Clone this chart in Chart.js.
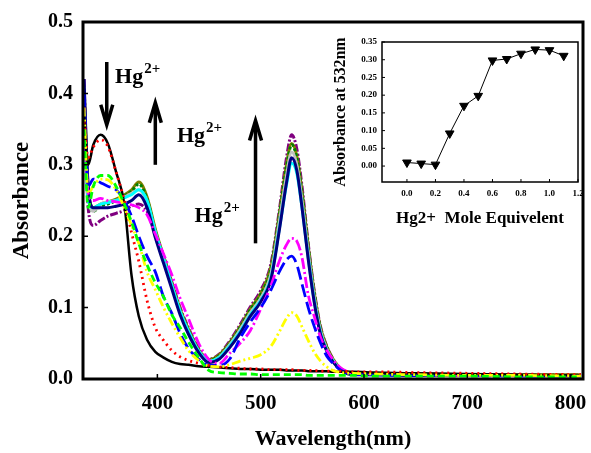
<!DOCTYPE html>
<html>
<head>
<meta charset="utf-8">
<script src="https://cdn.jsdelivr.net/npm/chart.js@4.4.0/dist/chart.umd.min.js"></script>
<style>
  body { margin: 0; background: #fff; }
  #wrap { position: relative; width: 591px; height: 453px; }
  #mainChart { position: absolute; left: 0; top: 0; }
  #insetChart { position: absolute; left: 318px; top: 25px; }
</style>
</head>
<body>
<div id="wrap">
  <canvas id="mainChart" width="591" height="453"></canvas>
  <canvas id="insetChart" width="268" height="205"></canvas>
</div>
<script>
// wavelengths (nm) shared by all spectra
const wavelengths = [329,333,338,345,352,360,368,375,382,390,398,406,414,422,430,440,450,460,470,480,490,500,510,518,525,530,535,540,546,552,558,564,570,578,590,610,650,700,750,810];

// absorbance spectra, one per Hg2+ addition
const absBlack   = [0.37,0.30,0.328,0.342,0.33,0.29,0.245,0.145,0.088,0.055,0.038,0.03,0.024,0.021,0.02,0.018,0.017,0.016,0.015,0.014,0.014,0.013,0.013,0.013,0.012,0.012,0.012,0.012,0.011,0.011,0.011,0.011,0.01,0.01,0.01,0.009,0.008,0.007,0.006,0.005];
const absRed     = [0.36,0.31,0.325,0.335,0.326,0.29,0.25,0.205,0.165,0.11,0.072,0.054,0.04,0.031,0.026,0.022,0.019,0.017,0.016,0.015,0.014,0.014,0.013,0.013,0.013,0.013,0.012,0.012,0.012,0.012,0.011,0.011,0.011,0.011,0.01,0.01,0.009,0.008,0.007,0.006];
const absLime    = [0.35,0.24,0.27,0.285,0.285,0.27,0.245,0.22,0.19,0.16,0.135,0.115,0.09,0.072,0.052,0.03,0.012,0.009,0.008,0.007,0.007,0.006,0.006,0.006,0.006,0.006,0.006,0.006,0.005,0.005,0.005,0.005,0.005,0.005,0.005,0.004,0.004,0.004,0.003,0.003];
const absYellow  = [0.38,0.26,0.27,0.28,0.279,0.265,0.24,0.215,0.19,0.15,0.125,0.1,0.078,0.058,0.04,0.026,0.018,0.017,0.02,0.025,0.029,0.034,0.046,0.066,0.085,0.093,0.088,0.073,0.054,0.037,0.025,0.017,0.012,0.009,0.008,0.007,0.006,0.005,0.005,0.004];
const absBlue    = [0.40,0.27,0.28,0.275,0.27,0.265,0.25,0.228,0.2,0.172,0.15,0.115,0.092,0.064,0.043,0.028,0.019,0.019,0.028,0.057,0.08,0.1,0.125,0.15,0.167,0.172,0.16,0.133,0.1,0.073,0.05,0.032,0.022,0.012,0.007,0.006,0.005,0.005,0.004,0.004];
const absMagenta = [0.38,0.26,0.25,0.253,0.25,0.248,0.246,0.244,0.24,0.23,0.203,0.175,0.146,0.113,0.085,0.05,0.027,0.022,0.036,0.05,0.068,0.098,0.131,0.165,0.188,0.197,0.193,0.17,0.118,0.087,0.058,0.04,0.027,0.015,0.008,0.007,0.006,0.005,0.005,0.004];
const absNavy    = [0.42,0.27,0.24,0.24,0.24,0.242,0.245,0.25,0.258,0.24,0.198,0.162,0.126,0.09,0.063,0.037,0.023,0.028,0.044,0.064,0.088,0.108,0.14,0.208,0.275,0.31,0.292,0.24,0.168,0.106,0.062,0.039,0.024,0.012,0.006,0.006,0.005,0.005,0.005,0.004];
const absCyan    = [0.38,0.25,0.24,0.245,0.247,0.25,0.254,0.258,0.265,0.25,0.206,0.169,0.131,0.095,0.067,0.039,0.025,0.03,0.046,0.066,0.09,0.11,0.142,0.21,0.272,0.302,0.288,0.24,0.17,0.108,0.064,0.04,0.025,0.012,0.007,0.006,0.006,0.005,0.005,0.005];
const absGray    = [0.39,0.26,0.235,0.245,0.248,0.25,0.255,0.26,0.265,0.248,0.205,0.168,0.13,0.094,0.066,0.039,0.025,0.031,0.048,0.069,0.093,0.113,0.148,0.22,0.285,0.318,0.3,0.25,0.178,0.113,0.067,0.042,0.026,0.013,0.007,0.006,0.006,0.005,0.005,0.005];
const absOlive   = [0.41,0.27,0.24,0.245,0.248,0.252,0.258,0.265,0.276,0.255,0.21,0.172,0.134,0.098,0.07,0.041,0.027,0.034,0.051,0.073,0.098,0.12,0.157,0.23,0.3,0.33,0.312,0.262,0.186,0.119,0.071,0.045,0.028,0.014,0.008,0.007,0.007,0.006,0.006,0.006];
const absGreen   = [0.40,0.26,0.235,0.242,0.245,0.25,0.256,0.263,0.273,0.252,0.207,0.17,0.132,0.096,0.068,0.04,0.026,0.033,0.05,0.072,0.097,0.118,0.155,0.228,0.297,0.328,0.31,0.26,0.185,0.118,0.07,0.044,0.027,0.013,0.008,0.007,0.006,0.006,0.005,0.005];
const absPurple  = [0.42,0.24,0.215,0.222,0.228,0.232,0.236,0.242,0.245,0.235,0.205,0.172,0.136,0.1,0.072,0.043,0.028,0.035,0.053,0.076,0.101,0.124,0.162,0.236,0.31,0.342,0.322,0.27,0.19,0.122,0.073,0.046,0.028,0.014,0.008,0.007,0.007,0.006,0.006,0.006];

const xTicks = [400, 500, 600, 700, 800];
const yTicks = [0, 0.1, 0.2, 0.3, 0.4, 0.5];

// inset: absorbance at 532 nm vs Hg2+ equivalents
const equivalents = [0.0, 0.1, 0.2, 0.3, 0.4, 0.5, 0.6, 0.7, 0.8, 0.9, 1.0, 1.1];
const abs532 = [0.010, 0.007, 0.004, 0.092, 0.170, 0.198, 0.298, 0.302, 0.317, 0.329, 0.327, 0.311];
const insetXTicks = [0, 0.2, 0.4, 0.6, 0.8, 1.0, 1.2];
const insetYTicks = [0, 0.05, 0.10, 0.15, 0.20, 0.25, 0.30, 0.35];

const serif = "'Liberation Serif', 'Times New Roman', serif";

function spectrum(values, color, dash, width) {
  return {
    data: values.map((v, i) => ({ x: wavelengths[i], y: v })),
    borderColor: color,
    borderDash: dash,
    borderWidth: width || 2.8,
    pointRadius: 0,
    cubicInterpolationMode: 'monotone',
    fill: false
  };
}

// arrows and labels, placed in data units
const arrows = [
  { x: 351, from: 0.444, to: 0.356 },
  { x: 398, from: 0.300, to: 0.387 },
  { x: 495, from: 0.190, to: 0.362 }
];
const hgLabels = [
  { x: 359, y: 0.415 },
  { x: 419, y: 0.332 },
  { x: 436, y: 0.220 }
];

const frame = {
  id: 'frame',
  afterDatasetsDraw(chart, args, opts) {
    const { ctx, chartArea: a, scales } = chart;
    ctx.save();
    ctx.strokeStyle = '#000';
    ctx.lineWidth = opts.width;
    ctx.strokeRect(a.left, a.top, a.right - a.left, a.bottom - a.top);
    ctx.lineWidth = opts.tickWidth;
    ctx.beginPath();
    scales.x.ticks.forEach(t => {
      const px = scales.x.getPixelForValue(t.value);
      ctx.moveTo(px, a.bottom); ctx.lineTo(px, a.bottom - opts.tick);
    });
    scales.y.ticks.forEach(t => {
      const py = scales.y.getPixelForValue(t.value);
      ctx.moveTo(a.left, py); ctx.lineTo(a.left + opts.tick, py);
    });
    ctx.stroke();
    ctx.restore();
  }
};

const annotate = {
  id: 'annotate',
  afterDatasetsDraw(chart) {
    const { ctx, scales } = chart;
    ctx.save();
    ctx.strokeStyle = '#000';
    ctx.fillStyle = '#000';
    ctx.lineWidth = 3.5;
    ctx.lineCap = 'butt';
    arrows.forEach(ar => {
      const x = scales.x.getPixelForValue(ar.x);
      const y0 = scales.y.getPixelForValue(ar.from);
      const y1 = scales.y.getPixelForValue(ar.to);
      const dir = y1 > y0 ? 1 : -1;
      ctx.beginPath();
      ctx.moveTo(x, y0); ctx.lineTo(x, y1 - dir * 2);
      ctx.stroke();
      ctx.beginPath();
      ctx.moveTo(x - 6, y1 - dir * 20);
      ctx.lineTo(x, y1);
      ctx.lineTo(x + 6, y1 - dir * 20);
      ctx.stroke();
    });
    hgLabels.forEach(l => {
      const x = scales.x.getPixelForValue(l.x);
      const y = scales.y.getPixelForValue(l.y);
      ctx.textBaseline = 'alphabetic';
      ctx.font = 'bold 22px ' + serif;
      ctx.fillText('Hg', x, y);
      const w = ctx.measureText('Hg').width;
      ctx.font = 'bold 15px ' + serif;
      ctx.fillText('2+', x + w + 1, y - 10);
    });
    ctx.restore();
  }
};

function noSidePadding(s) {
  s.paddingLeft = 0;
  s.paddingRight = 0;
}

new Chart(document.getElementById('mainChart'), {
  type: 'line',
  data: {
    datasets: [
      spectrum(absLime, '#00ff00', [7, 4]),
      spectrum(absYellow, '#ffff00', [9, 3, 2, 3, 2, 3]),
      spectrum(absRed, '#ff0000', [2, 4]),
      spectrum(absBlack, '#000000', [], 2.5),
      spectrum(absBlue, '#0000ff', [13, 5]),
      spectrum(absMagenta, '#ff00ff', [11, 3, 2, 3]),
      spectrum(absNavy, '#000080', [], 3),
      spectrum(absCyan, '#00ffff', [], 3),
      spectrum(absGray, '#c0c0c0', [], 3),
      spectrum(absGreen, '#008000', [3, 2], 3),
      spectrum(absOlive, '#808000', [], 3),
      spectrum(absPurple, '#800080', [8, 2, 2, 2], 3)
    ]
  },
  plugins: [frame, annotate],
  options: {
    responsive: false,
    animation: false,
    layout: { padding: { top: 22, right: 8, left: 0, bottom: 0 } },
    plugins: {
      legend: { display: false },
      tooltip: { enabled: false },
      frame: { width: 3, tick: 5, tickWidth: 1.5 }
    },
    scales: {
      x: {
        type: 'linear',
        min: 328,
        max: 812,
        afterFit(s) { s.height = 74; noSidePadding(s); },
        afterBuildTicks(s) { s.ticks = xTicks.map(v => ({ value: v })); },
        grid: { display: false, drawTicks: false },
        border: { display: false },
        ticks: { color: '#000', padding: 12, font: { family: serif, size: 21, weight: 'bold' } },
        title: { display: true, text: 'Wavelength(nm)', color: '#000', padding: { top: 0, bottom: 0 }, font: { family: serif, size: 22, weight: 'bold' } }
      },
      y: {
        min: 0,
        max: 0.5,
        afterFit(s) { s.width = 83; },
        afterBuildTicks(s) { s.ticks = yTicks.map(v => ({ value: v })); },
        grid: { display: false, drawTicks: false },
        border: { display: false },
        ticks: { color: '#000', padding: 10, font: { family: serif, size: 20, weight: 'bold' }, callback: v => v.toFixed(1) },
        title: { display: true, text: 'Absorbance', color: '#000', padding: { top: 8, bottom: 0 }, font: { family: serif, size: 23, weight: 'bold' } }
      }
    }
  }
});

new Chart(document.getElementById('insetChart'), {
  type: 'line',
  data: {
    datasets: [{
      data: equivalents.map((e, i) => ({ x: e, y: abs532[i] })),
      borderColor: '#000',
      borderWidth: 1,
      backgroundColor: '#000',
      pointStyle: 'triangle',
      rotation: 180,
      pointRadius: 5,
      tension: 0
    }]
  },
  plugins: [frame],
  options: {
    responsive: false,
    animation: false,
    layout: { padding: { top: 17, right: 8, left: 0, bottom: 0 } },
    plugins: {
      legend: { display: false },
      tooltip: { enabled: false },
      frame: { width: 1.5, tick: 3, tickWidth: 1 }
    },
    scales: {
      x: {
        type: 'linear',
        min: -0.175,
        max: 1.2,
        afterFit(s) { s.height = 48; noSidePadding(s); },
        afterBuildTicks(s) { s.ticks = insetXTicks.map(v => ({ value: v })); },
        grid: { display: false, drawTicks: false },
        border: { display: false },
        ticks: { color: '#000', padding: 6, font: { family: serif, size: 9, weight: 'bold' }, callback: v => v.toFixed(1) },
        title: { display: true, text: 'Hg2+  Mole Equivelent', color: '#000', padding: { top: 0, bottom: 1 }, font: { family: serif, size: 17, weight: 'bold' } }
      },
      y: {
        min: -0.045,
        max: 0.35,
        afterFit(s) { s.width = 64; },
        afterBuildTicks(s) { s.ticks = insetYTicks.map(v => ({ value: v })); },
        grid: { display: false, drawTicks: false },
        border: { display: false },
        ticks: { color: '#000', padding: 5, font: { family: serif, size: 9, weight: 'bold' }, callback: v => v.toFixed(2) },
        title: { display: true, text: 'Absorbance at 532nm', color: '#000', padding: { top: 13, bottom: 0 }, font: { family: serif, size: 16, weight: 'bold' } }
      }
    }
  }
});
</script>
</body>
</html>
